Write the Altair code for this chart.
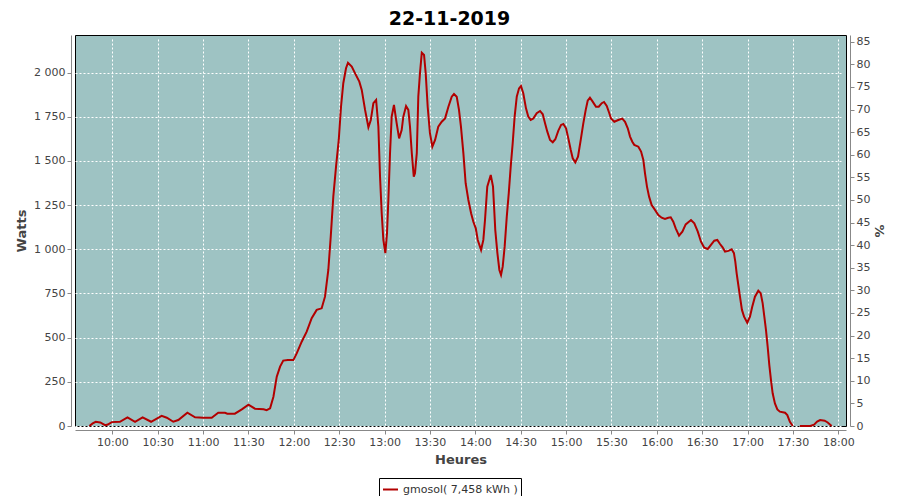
import altair as alt
import pandas as pd

# time in minutes since midnight
times = [584.8, 587, 589, 592, 595.2, 597, 599.6, 605, 610, 615, 620, 625.6, 632.6, 636, 640.3, 643.6,
         649.6, 654.7, 660, 665.7, 670, 674.5, 676, 681, 685.6, 690, 694.3, 700, 702, 704.3, 706.5,
         708.7, 710.9, 713, 716, 719.7, 721.9, 725.2, 728.5, 731.8, 735.1, 738.4, 740.6, 742.8,
         744.4, 746.1, 747.9, 749.7, 751.2, 752.7, 754.5, 755.8, 758.3, 760.5, 763.3, 764.9, 767.1,
         769.3, 770.9, 772.6, 774.4, 775.9, 777, 778.1, 779.2, 780.5, 781.6, 782.5, 783.6, 784.7,
         786.2, 788, 789.6, 791.3, 792.4, 794.2, 795.7, 796.8, 798, 799.3, 800.1, 801.3, 802.3,
         803.4, 804.6, 806.1, 807.2, 808.5, 810, 811.6, 813.4, 815.5, 817.8, 820, 822.2, 824.4,
         825.9, 827.7, 829.2, 830.5, 832.1, 833.6, 835.4, 837.2, 838.7, 840.3, 841.6, 843.8, 845.3,
         846.4, 847.9, 850.2, 851.7, 852.4, 853.2, 854.6, 855.9, 857, 858.1, 859.4, 860.8, 862.1,
         863.4, 864.7, 866, 867.4, 868.9, 870.2, 871.7, 873.5, 875, 876.6, 878.4, 880.6, 882.8,
         884.6, 886.1, 887.6, 889.4, 891.2, 892.9, 894.9, 896.7, 898.2, 900, 901.5, 903.1, 904.4,
         906.1, 907.9, 909.7, 911.4, 913, 914.3, 915.8, 917.6, 919.8, 921.6, 923.6, 925.1, 926.9,
         928.6, 929.7, 931.9, 934.5, 937.2, 939, 940.8, 942.3, 943.8, 945.1, 947.8, 949.6, 951.1,
         952.2, 953.5, 954.9, 956.6, 958.8, 961, 963.2, 965.4, 967.6, 969.2, 970.9, 972.5, 974.7,
         976.9, 979.1, 982.6, 984.8, 987.1, 989.2, 991.4, 993.7, 995.8, 998, 1000, 1001.8, 1003.5,
         1005.1, 1007.3, 1009.5, 1011, 1011.9, 1012.8, 1013.9, 1015, 1016.3, 1017.7, 1019.8, 1021.6,
         1023.1, 1024.9, 1027.1, 1028.7, 1030, 1031.1, 1032.2, 1033.3, 1034.4, 1035.5, 1036.6,
         1038.1, 1039.7, 1041.4, 1044.8, 1046.3, 1048, 1049.9, 1052,
         1054.6, 1061.5, 1064, 1066, 1068, 1071, 1073, 1075.6]

watts = [0, 15, 24, 20, 5, 8, 22, 24, 49, 24, 49, 24, 57, 47, 24, 34,
         75, 49, 47, 47, 75, 75, 70, 70, 94, 121, 98, 95, 90, 100, 166,
         279, 336, 370, 373, 373, 411, 477, 534, 610, 657, 666, 732, 883,
         1072, 1298, 1468, 1619, 1807, 1940, 2025, 2056, 2034, 1996, 1949, 1902, 1789,
         1691, 1732, 1827, 1845, 1694, 1411, 1204, 1053, 978, 1091, 1279, 1544, 1751,
         1817, 1713, 1628, 1675, 1751, 1811, 1789, 1694, 1544, 1411, 1430, 1544, 1864,
         1996, 2113, 2100, 1996, 1807, 1657, 1581, 1619, 1694, 1722, 1741, 1807, 1864,
         1879, 1864, 1789, 1694, 1544, 1374, 1279, 1204, 1156, 1119, 1053, 996, 1053,
         1166, 1355, 1421, 1355, 1241, 1109, 978, 883, 855, 902, 1015, 1185, 1317,
         1468, 1600, 1751, 1864, 1911, 1924, 1883, 1798, 1751, 1732, 1741, 1770, 1783,
         1764, 1713, 1666, 1619, 1606, 1623, 1672, 1704, 1709, 1685, 1628, 1562, 1515,
         1492, 1524, 1619, 1713, 1789, 1841, 1858, 1836, 1807, 1807, 1827, 1834, 1811,
         1770, 1741, 1722, 1732, 1740, 1722, 1685, 1638, 1609, 1591, 1581, 1553, 1506,
         1430, 1355, 1298, 1251, 1223, 1194, 1179, 1172, 1179, 1181, 1156, 1119, 1077,
         1100, 1141, 1166, 1147, 1100, 1043, 1009, 1002, 1025, 1049, 1053, 1030, 1011,
         987, 991, 1000, 978, 930, 864, 798, 732, 657, 619, 585, 619,
         675, 732, 766, 751, 694, 619, 543, 449, 345, 260, 185,
         128, 94, 81, 75, 62, 24, 0, None,
         0, 0, 8, 25, 34, 30, 20, 0]

series_name = "gmosol( 7,458 kWh )"
x_ticks = list(range(600, 1081, 30))
y_ticks = list(range(0, 2001, 250))
pct_ticks = list(range(0, 86, 5))

# split the line where a reading is missing
rows = []
seg = 0
for t, w in zip(times, watts):
    if w is None:
        seg += 1
        continue
    rows.append({"t": t, "w": w, "seg": seg, "series": series_name})
df = pd.DataFrame(rows)

FONT = "DejaVu Sans"
xscale = alt.Scale(domain=[575.3, 1085.1], nice=False, zero=False)

line = alt.Chart(df).mark_line(strokeWidth=2, interpolate="linear").encode(
    x=alt.X("t:Q", scale=xscale,
            axis=alt.Axis(values=x_ticks, title="Heures",
                          labelExpr="floor(datum.value/60) + ':' + (datum.value % 60 == 0 ? '00' : '30')",
                          grid=True, titlePadding=6)),
    y=alt.Y("w:Q", scale=alt.Scale(domain=[0, 2213], nice=False, zero=True),
            axis=alt.Axis(values=y_ticks, title="Watts", grid=True,
                          labelExpr="replace(format(datum.value, ','), ',', ' ')",
                          titlePadding=5)),
    detail="seg:N",
    color=alt.Color("series:N", scale=alt.Scale(range=["#b20000"]),
                    legend=alt.Legend(title=None, orient="none", legendX=304, legendY=443,
                                      strokeColor="black", padding=3, symbolType="stroke",
                                      symbolSize=225, symbolStrokeWidth=2,
                                      labelFont=FONT, labelFontSize=11, labelColor="#333")),
)

pct_df = pd.DataFrame({"pct": pct_ticks})
right = alt.Chart(pct_df).mark_point(opacity=0).encode(
    y=alt.Y("pct:Q", scale=alt.Scale(domain=[0, 86.5], nice=False, zero=True),
            axis=alt.Axis(orient="right", values=pct_ticks, title="%", grid=False,
                          titlePadding=2)),
)

chart = alt.layer(line, right).resolve_scale(y="independent").properties(
    width=771, height=391,
    title=alt.TitleParams("22-11-2019", font=FONT, fontSize=19, fontWeight="bold",
                          color="black", offset=6, dx=-11),
    autosize=alt.AutoSizeParams(type="none"),
    padding={"left": 67, "top": 27, "right": 46, "bottom": 70},
    background="white",
).configure_view(
    fill="#9ec3c3", stroke="black", strokeWidth=1
).configure_axis(
    labelFont=FONT, labelFontSize=11, labelColor="#444",
    titleFont=FONT, titleFontSize=13, titleFontWeight="bold", titleColor="#444",
    domainColor="#888", tickColor="#888", tickSize=4, labelPadding=2, offset=4,
    gridColor="white", gridDash=[2, 2], gridWidth=1, gridOpacity=1,
)

chart.save("out.html", embed_options={"renderer": "svg", "actions": False})
